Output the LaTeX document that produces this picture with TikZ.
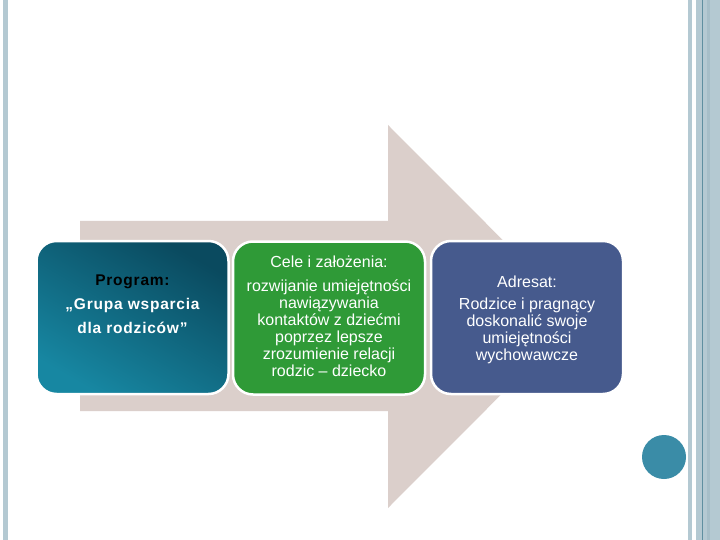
\documentclass[tikz,border=0pt]{standalone}
\usepackage{fontspec}
\setmainfont{Liberation Sans}
\definecolor{stripe}{HTML}{B4C9D2}
\definecolor{stripedark}{HTML}{5F8FA0}
\definecolor{stripemid}{HTML}{A6BEC8}
\definecolor{arrowbeige}{HTML}{DBCFCB}
\definecolor{tealdark}{HTML}{0A4A5F}
\definecolor{teallight}{HTML}{1787A2}
\definecolor{boxgreen}{HTML}{2F9A37}
\definecolor{boxblue}{HTML}{465A8D}
\definecolor{dotblue}{HTML}{3A8CA7}
\tikzset{
  box/.style={rounded corners=20pt, minimum width=192pt, minimum height=153pt, draw=white, line width=2.5pt, inner sep=0pt},
  boxtext/.style={text=white, align=center, font=\fontsize{16}{17}\selectfont, inner sep=0pt},
}
\begin{document}
\begin{tikzpicture}[x=1pt,y=-1pt]
\useasboundingbox (0,0) rectangle (720,540);
\fill[white] (0,0) rectangle (720,540);
% frame stripes
\fill[stripe] (2.7,0) rectangle (8.3,540);
\fill[stripe] (688.3,0) rectangle (691.7,540);
\fill[stripe] (695.7,0) rectangle (720,540);
\fill[stripemid] (706.7,0) rectangle (710,540);
\fill[stripedark] (701.7,0) rectangle (702.7,540);
\node[circle, fill=dotblue, minimum size=44pt, inner sep=0pt] (dot) at (664,457) {};
% arrow
\fill[arrowbeige] (80,221) -- (388,221) -- (388,125) -- (579,316.5) -- (388,508) -- (388,411) -- (80,411) -- cycle;
% boxes
\node[box, shading=axis, top color=tealdark, bottom color=teallight, shading angle=-30] (b1) at (132.5,317.5) {};
\node[box, fill=boxgreen] (b2) at (329,318) {};
\node[box, fill=boxblue] (b3) at (527,317.5) {};
% texts
\node[boxtext, font=\fontsize{15.5}{24}\selectfont\bfseries\addfontfeature{LetterSpace=5}, anchor=north] (t1) at (132.5,275) {\textcolor{black}{Program:}\\„Grupa wsparcia\\dla rodziców”};
\node[boxtext, anchor=north] (t2) at (329,256) {Cele i założenia:\\[7pt]rozwijanie umiejętności\\nawiązywania\\kontaktów z dziećmi\\poprzez lepsze\\zrozumienie relacji\\rodzic – dziecko};
\node[boxtext, anchor=north] (t3) at (527,276) {Adresat:\\[5pt]Rodzice i pragnący\\doskonalić swoje\\umiejętności\\wychowawcze};
\end{tikzpicture}
\end{document}
